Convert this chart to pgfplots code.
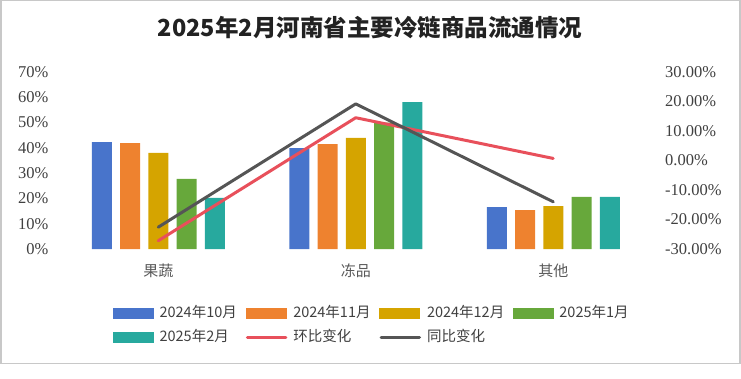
\documentclass[border=0pt]{standalone}
\usepackage{pgfplots}
\pgfplotsset{compat=1.18}
\usepackage{fontspec}
\setmainfont{Liberation Serif}
\newfontfamily\cjk{Noto Sans CJK SC}
\definecolor{cA}{HTML}{4874CB}
\definecolor{cB}{HTML}{EE822F}
\definecolor{cC}{HTML}{D5A400}
\definecolor{cD}{HTML}{67A83B}
\definecolor{cE}{HTML}{27A99E}
\definecolor{cR}{HTML}{E8505B}
\definecolor{cG}{HTML}{555555}
\definecolor{bordergray}{HTML}{C8C8C8}
\definecolor{tickc}{HTML}{404040}
\definecolor{catc}{HTML}{595959}
\definecolor{titlec}{HTML}{222222}
\begin{document}
\begin{tikzpicture}[x=1pt,y=1pt]
\useasboundingbox (0,0) rectangle (741,378);
\draw[draw=bordergray, line width=1.5pt] (0.75,14.5) rectangle (740,377.25);
\node[font=\cjk\bfseries\fontsize{23.5}{28}\selectfont, text=titlec] at (370,350.5) {2025年2月河南省主要冷链商品流通情况};
\begin{axis}[
  at={(59.5pt,129pt)}, anchor=south west, scale only axis,
  width=592.5pt, height=177pt,
  xmin=-0.5, xmax=2.5, ymin=0, ymax=70,
  axis line style={draw=none}, major tick length=0pt,
  ytick={0,10,20,30,40,50,60,70},
  yticklabels={0\%,10\%,20\%,30\%,40\%,50\%,60\%,70\%},
  yticklabel style={font=\fontsize{16.5}{16.5}\selectfont, text=tickc, anchor=east, inner xsep=0pt, xshift=-11pt},
  xtick={0,1,2}, xticklabels={果蔬,冻品,其他},
  xticklabel style={font=\cjk\fontsize{15}{15}\selectfont, text=catc, anchor=base, inner sep=0pt, yshift=-27pt},
  ybar=8.25pt, bar width=20pt,
]
\addplot[fill=cA, draw=none] coordinates {(0,42.3) (1,39.9) (2,16.6)};
\addplot[fill=cB, draw=none] coordinates {(0,41.9) (1,41.5) (2,15.4)};
\addplot[fill=cC, draw=none] coordinates {(0,38.0) (1,43.9) (2,17.0)};
\addplot[fill=cD, draw=none] coordinates {(0,27.7) (1,50.0) (2,20.6)};
\addplot[fill=cE, draw=none] coordinates {(0,20.2) (1,58.1) (2,20.6)};
\end{axis}
\begin{axis}[
  at={(59.5pt,129pt)}, anchor=south west, scale only axis,
  width=592.5pt, height=177pt,
  xmin=-0.5, xmax=2.5, ymin=-30, ymax=30,
  axis line style={draw=none}, major tick length=0pt,
  xtick=\empty,
  ytick={-30,-20,-10,0,10,20,30},
  yticklabels={-30.00\%,-20.00\%,-10.00\%,0.00\%,10.00\%,20.00\%,30.00\%},
  yticklabel pos=right,
  yticklabel style={font=\fontsize{16.5}{16.5}\selectfont, text=tickc, anchor=west, inner xsep=0pt, xshift=13pt},
  legend columns=4,
  legend style={at={(0.0903,-0.322)}, anchor=north west, draw=none, fill=none, inner sep=0pt,
    font=\cjk\fontsize{14.5}{14.5}\selectfont, text=tickc,
    nodes={text width=78pt, inner xsep=0pt, inner ysep=0pt, align=left, text height=11pt, text depth=3pt},
    /tikz/every odd column/.append style={column sep=6pt},
    /tikz/every even column/.append style={column sep=8pt},
    row sep=10pt},
]
\addlegendimage{legend image code/.code={\fill[cA] (0pt,-5pt) rectangle (40pt,5pt);}}
\addlegendentry{2024年10月}
\addlegendimage{legend image code/.code={\fill[cB] (0pt,-5pt) rectangle (40pt,5pt);}}
\addlegendentry{2024年11月}
\addlegendimage{legend image code/.code={\fill[cC] (0pt,-5pt) rectangle (40pt,5pt);}}
\addlegendentry{2024年12月}
\addlegendimage{legend image code/.code={\fill[cD] (0pt,-5pt) rectangle (40pt,5pt);}}
\addlegendentry{2025年1月}
\addlegendimage{legend image code/.code={\fill[cE] (0pt,-5pt) rectangle (40pt,5pt);}}
\addlegendentry{2025年2月}
\addplot[cR, line width=3pt, line cap=round, line join=round, mark=none,
  legend image code/.code={\draw[cR, line width=3pt, line cap=round] (1.5pt,0pt) -- (40pt,0pt);}]
  coordinates {(0,-27.2) (1,14.5) (2,0.7)};
\addlegendentry{环比变化}
\addplot[cG, line width=3pt, line cap=round, line join=round, mark=none,
  legend image code/.code={\draw[cG, line width=3pt, line cap=round] (1.5pt,0pt) -- (40pt,0pt);}]
  coordinates {(0,-22.6) (1,19.2) (2,-14.0)};
\addlegendentry{同比变化}
\end{axis}
\end{tikzpicture}
\end{document}
